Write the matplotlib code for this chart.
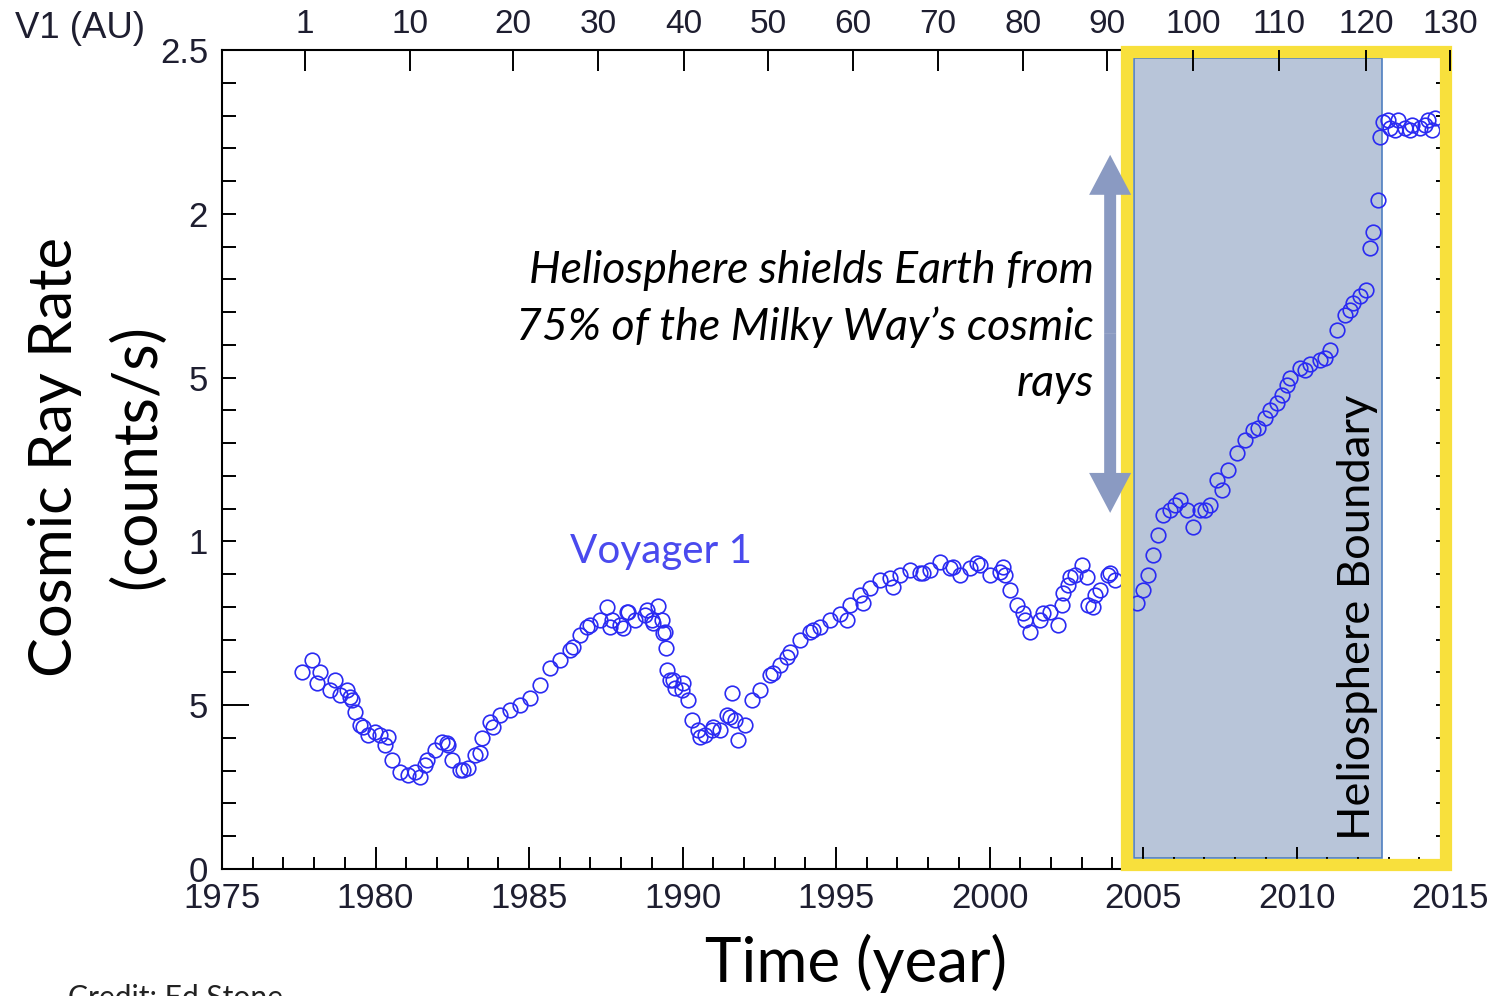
import matplotlib
matplotlib.use('Agg')
import matplotlib.pyplot as plt
from matplotlib.patches import Rectangle, FancyArrow
from matplotlib.ticker import MultipleLocator

W, H, DPI = 1499, 996, 100

# ---- data ----
years = [1977.61, 1977.93, 1978.19, 1978.52, 1978.68, 1978.84, 1979.07, 1979.23, 1979.33, 1979.50,
         1979.76, 1979.98, 1980.15, 1980.31, 1980.54, 1980.80, 1981.06, 1981.29, 1981.61, 1981.94,
         1982.17, 1982.36, 1982.49, 1982.75, 1983.01, 1983.24, 1983.47, 1983.73, 1984.06, 1984.38,
         1984.71, 1985.03, 1985.36, 1985.68, 1986.01, 1986.34, 1986.66, 1986.99, 1987.31, 1987.54,
         1987.70, 1987.96, 1988.22, 1988.45, 1988.78, 1989.01, 1989.20, 1989.33, 1989.43, 1989.46,
         1989.50, 1989.59, 1989.76, 1989.98, 1990.18, 1990.31, 1990.50, 1990.73, 1990.96, 1991.22,
         1991.45, 1991.61, 1991.71, 1991.81, 1992.04, 1992.26, 1992.52, 1992.85, 1993.18, 1993.50,
         1993.83, 1994.15, 1994.48, 1994.80, 1995.13, 1995.46, 1995.78, 1996.11, 1996.43, 1996.76,
         1997.08, 1997.41, 1997.74, 1998.06, 1998.39, 1998.71, 1999.04, 1999.36, 1999.69, 2000.02,
         2000.34, 2000.50, 2000.67, 2000.90, 2001.16, 2001.32, 2001.64, 2001.97, 2002.23, 2002.36,
         2002.56, 2002.79, 2003.01, 2003.21, 2003.44, 2003.60, 2003.86, 2004.09,
         2004.80, 2005.00, 2005.16, 2005.33, 2005.49, 2005.65, 2005.88, 2006.21, 2006.43, 2006.63,
         2006.86, 2007.18, 2007.41, 2007.77, 2008.06, 2008.32, 2008.58, 2008.97, 2009.36, 2009.69,
         2009.79, 2010.11, 2010.44, 2010.77, 2011.09, 2011.32, 2011.58, 2011.84, 2012.07, 2012.26,
         2012.39, 2012.49, 2012.65, 2012.72, 2012.82, 2013.05, 2013.31, 2013.53, 2013.76, 2014.02,
         2014.28, 2014.51]
rates = [0.601, 0.638, 0.601, 0.546, 0.577, 0.531, 0.546, 0.516, 0.479, 0.440,
         0.409, 0.418, 0.409, 0.379, 0.333, 0.296, 0.287, 0.296, 0.317, 0.363,
         0.388, 0.379, 0.333, 0.302, 0.308, 0.348, 0.400, 0.449, 0.470, 0.485,
         0.501, 0.522, 0.562, 0.614, 0.638, 0.668, 0.714, 0.745, 0.760, 0.800,
         0.760, 0.745, 0.785, 0.760, 0.775, 0.760, 0.803, 0.760, 0.723, 0.675,
         0.607, 0.577, 0.553, 0.546, 0.516, 0.455, 0.424, 0.409, 0.424, 0.424,
         0.470, 0.537, 0.455, 0.394, 0.440, 0.516, 0.546, 0.592, 0.623, 0.662,
         0.699, 0.723, 0.739, 0.760, 0.778, 0.806, 0.836, 0.858, 0.882, 0.888,
         0.897, 0.913, 0.904, 0.913, 0.937, 0.919, 0.897, 0.919, 0.928, 0.897,
         0.907, 0.897, 0.852, 0.806, 0.760, 0.723, 0.760, 0.785, 0.745, 0.806,
         0.867, 0.897, 0.928, 0.806, 0.836, 0.852, 0.897, 0.882,
         0.812, 0.852, 0.897, 0.958, 1.020, 1.081, 1.096, 1.126, 1.096, 1.044,
         1.096, 1.111, 1.187, 1.218, 1.270, 1.310, 1.340, 1.377, 1.422, 1.477,
         1.499, 1.529, 1.541, 1.554, 1.584, 1.645, 1.691, 1.728, 1.749, 1.767,
         1.896, 1.944, 2.042, 2.234, 2.280, 2.262, 2.286, 2.262, 2.271, 2.262,
         2.286, 2.292]

# further readings of the overlapping circles
years_extra = [1978.09, 1979.17, 1979.59, 1980.41, 1981.45, 1981.68, 1982.33, 1982.85, 1983.40, 1983.83,
               1986.43, 1986.89, 1987.64, 1988.06, 1988.19, 1988.84, 1989.04, 1989.36, 1989.69, 1990.02,
               1990.57, 1990.99, 1991.55, 1992.95, 1993.40, 1994.25, 1995.36, 1995.88, 1996.86, 1997.83,
               1998.81, 1999.59, 2000.44, 2001.09, 2001.74, 2002.39, 2002.62, 2003.18, 2003.37, 2003.92,
               2006.04, 2007.02, 2007.57, 2008.75, 2009.14, 2009.53, 2010.28, 2010.93, 2011.74,
               2012.98, 2013.21, 2013.70, 2014.19, 2014.41]
rates_extra = [0.568, 0.525, 0.433, 0.403, 0.281, 0.333, 0.385, 0.302, 0.354, 0.433,
               0.678, 0.739, 0.739, 0.736, 0.785, 0.791, 0.751, 0.720, 0.577, 0.568,
               0.403, 0.433, 0.464, 0.598, 0.647, 0.730, 0.760, 0.812, 0.861, 0.904,
               0.922, 0.934, 0.922, 0.781, 0.781, 0.842, 0.891, 0.891, 0.800, 0.904,
               1.111, 1.096, 1.157, 1.346, 1.401, 1.447, 1.523, 1.560, 1.706,
               2.286, 2.256, 2.256, 2.271, 2.256]

xtick_vals = [1975, 1980, 1985, 1990, 1995, 2000, 2005, 2010, 2015]
ytick_vals = [0, 0.5, 1, 1.5, 2, 2.5]
ytick_labels = ['0', '5', '1', '5', '2', '2.5']
au_labels = ['1', '10', '20', '30', '40', '50', '60', '70', '80', '90', '100', '110', '120', '130']
au_years = [1977.70, 1981.12, 1984.48, 1987.25, 1990.05, 1992.78, 1995.55, 1998.32, 2001.09,
            2003.83, 2006.63, 2009.43, 2012.26, 2015.0]
boundary_span = (2004.71, 2012.79)
box_span = (2004.48, 2014.87)

# ---- figure ----
fig = plt.figure(figsize=(W / DPI, H / DPI), dpi=DPI)
def fx(px): return px / W
def fy(py): return 1 - py / H

ax = fig.add_axes([fx(222), fy(869), fx(1450) - fx(222), fy(50) - fy(869)])
ax.set_xlim(1975, 2015)
ax.set_ylim(0, 2.5)
for s in ax.spines.values():
    s.set_linewidth(1.5)

tick_col = '#1e1e30'
ax.set_xticks(xtick_vals)
ax.set_xticklabels([str(v) for v in xtick_vals], fontfamily='Liberation Sans', fontsize=25, color=tick_col)
ax.set_yticks(ytick_vals)
ax.set_yticklabels(ytick_labels, fontfamily='Liberation Sans', fontsize=25, color=tick_col)
ax.xaxis.set_minor_locator(MultipleLocator(1))
ax.yaxis.set_minor_locator(MultipleLocator(0.1))
ax.tick_params(axis='x', which='major', direction='in', length=15.5, width=1.4, pad=9, top=False)
ax.tick_params(axis='x', which='minor', direction='in', length=8.5, width=1.4, top=False)
ax.tick_params(axis='y', which='major', direction='in', length=10, width=1.4, pad=10, right=True)
ax.tick_params(axis='y', which='minor', direction='in', length=10, width=1.4, right=True)
# the 0.5 tick is drawn longer in the reference
yt = ax.yaxis.get_major_ticks()
yt[1].tick1line.set_markersize(19.5)

# shaded heliosphere-boundary region
ax.add_patch(Rectangle((boundary_span[0], 0.034), boundary_span[1] - boundary_span[0], 2.442,
                       facecolor='#b8c5d9', edgecolor='#4f7fc0', lw=1.2, zorder=1))

mstyle = dict(ls='none', marker='o', ms=10.5, mfc='none', mec='#2a2af2', mew=1.2, zorder=3)
ax.plot(years, rates, **mstyle)
ax.plot(years_extra, rates_extra, **mstyle)

# yellow box
ax.add_patch(Rectangle((box_span[0], 0.0137), box_span[1] - box_span[0], 2.4817,
                       fill=False, edgecolor='#f8e03c', lw=8.8, joinstyle='miter',
                       zorder=5, clip_on=False))

# double-headed arrow
ax_x = 2003.93
top_tip, bot_tip = 2.18, 1.087
mid = (top_tip + bot_tip) / 2
for tip in (top_tip, bot_tip):
    ax.add_patch(FancyArrow(ax_x, mid, 0, tip - mid, width=0.39, head_width=1.37,
                            head_length=0.122, length_includes_head=True,
                            color='#8a9ac2', lw=0, zorder=6, clip_on=False))

# top axis (distance in AU)
ax2 = ax.twiny()
ax2.set_xlim(ax.get_xlim())
ax2.set_xticks(au_years)
ax2.set_xticklabels(au_labels, fontfamily='Liberation Sans', fontsize=24, color=tick_col)
ax2.tick_params(axis='x', direction='in', length=15, width=1.4, pad=7)
ax2.xaxis.set_minor_locator(plt.NullLocator())
for s in ax2.spines.values():
    s.set_visible(False)

renderer = fig.canvas.get_renderer()
def fit(t, target, along='w'):
    for _ in range(3):
        bb = t.get_window_extent(renderer)
        cur = bb.width if along == 'w' else bb.height
        t.set_fontsize(t.get_fontsize() * target / cur)

SANS = 'Lato'
t = fig.text(fx(15), fy(28), 'V1 (AU)', ha='left', va='center', fontfamily='Liberation Sans',
             fontsize=24, color=tick_col)
fit(t, 130)

t = fig.text(fx(55), fy(457), 'Cosmic Ray Rate', rotation=90, ha='center', va='center',
             fontfamily=SANS, fontsize=40, color='black')
fit(t, 440, 'h')
t = fig.text(fx(137), fy(457), '(counts/s)', rotation=90, ha='center', va='center',
             fontfamily=SANS, fontsize=40, color='black')
fit(t, 265, 'h')

t = fig.text(fx(856), fy(963), 'Time (year)', ha='center', va='center',
             fontfamily=SANS, fontsize=40, color='black')
fit(t, 302)

t = fig.text(fx(661), fy(552), 'Voyager 1', ha='center', va='center',
             fontfamily=SANS, fontsize=28, color='#4a4aee')
fit(t, 182)

t = fig.text(fx(1094), fy(250), 'Heliosphere shields Earth from\n75% of the Milky Way\u2019s cosmic\nrays',
             ha='right', va='top', multialignment='right', fontfamily=SANS, style='italic',
             fontsize=29, linespacing=1.45, color='black', zorder=10)
fit(t, 577)

t = fig.text(fx(1358), fy(617), 'Heliosphere Boundary', rotation=90, ha='center', va='center',
             fontfamily=SANS, fontsize=28, color='black', zorder=10)
fit(t, 445, 'h')

t = fig.text(fx(68), fy(984), 'Credit: Ed Stone', ha='left', va='top',
             fontfamily=SANS, fontsize=18, color='#222222')
fit(t, 215)

fig.savefig('out.png', dpi=DPI)
